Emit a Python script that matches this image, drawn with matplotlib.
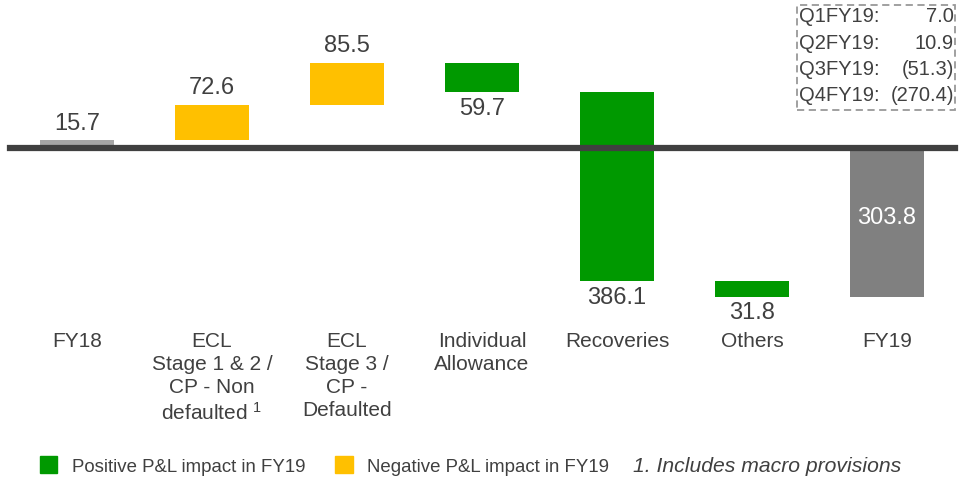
import matplotlib.pyplot as plt
from matplotlib.patches import Rectangle

# ---------------- data ----------------
categories = ["FY18", "ECL\nStage 1 & 2 /\nCP - Non\ndefaulted $^{1}$", "ECL\nStage 3 /\nCP -\nDefaulted",
              "Individual\nAllowance", "Recoveries", "Others", "FY19"]
changes = [15.7, 72.6, 85.5, -59.7, -386.1, -31.8, -303.8]
kinds = ["total", "neg", "neg", "pos", "pos", "pos", "total"]
labels = ["15.7", "72.6", "85.5", "59.7", "386.1", "31.8", "303.8"]

quarters = ["Q1FY19:", "Q2FY19:", "Q3FY19:", "Q4FY19:"]
quarter_vals = ["7.0", "10.9", "(51.3)", "(270.4)"]

GREEN = "#009900"
YELLOW = "#FFC000"
GRAY = "#808080"
LIGHT_GRAY = "#A6A6A6"
TEXT = "#404040"

plt.rcParams['font.family'] = ['Liberation Sans', 'DejaVu Sans']
plt.rcParams['mathtext.fontset'] = 'custom'
plt.rcParams['mathtext.rm'] = 'Liberation Sans'
plt.rcParams['mathtext.it'] = 'Liberation Sans'

W, H = 959, 482
fig = plt.figure(figsize=(W / 100, H / 100), dpi=100)
ax = fig.add_axes([0, 0, 1, 1])
ax.set_axis_off()

# pixel layout: bar i centred at 77 + 135*i, zero line at y=148, 0.49 px per unit
scale = 0.49
zero_px = 148
ax.set_xlim(-77 / 135, (W - 77) / 135)
ax.set_ylim(-(H - zero_px) / scale, zero_px / scale)


def fx(px):
    return px / W


def fy(py):
    return 1 - py / H


# ---------------- waterfall ----------------
running = 0.0
for i, (c, k) in enumerate(zip(changes, kinds)):
    if k == "total":
        bottom, height = 0, c
        color = LIGHT_GRAY if i == 0 else GRAY
    else:
        bottom, height = running, c
        color = YELLOW if k == "neg" else GREEN
    ax.bar(i, height, bottom=bottom, width=74 / 135, color=color, zorder=2)
    top = bottom + height if height > 0 else bottom
    low = bottom if height > 0 else bottom + height
    running = c if k == "total" else running + c

    if i == len(changes) - 1:
        ax.text(i, c / 2 + 9, labels[i], ha="center", va="center", color="white", fontsize=17, zorder=3)
    elif height > 0:
        ax.annotate(labels[i], (i, top), xytext=(0, 4), textcoords="offset points",
                    ha="center", va="bottom", color=TEXT, fontsize=17)
    else:
        ax.annotate(labels[i], (i, low), xytext=(0, -4), textcoords="offset points",
                    ha="center", va="top", color=TEXT, fontsize=17)

    ax.text(i, fy(332), categories[i], transform=ax.get_xaxis_transform(),
            ha="center", va="top", color=TEXT, fontsize=15, linespacing=1.26)

# zero line
ax.axhline(0, xmin=fx(10), xmax=fx(955), color=TEXT, lw=4.5, zorder=4)

# ---------------- quarterly box ----------------
fig.patches.append(Rectangle((fx(797), fy(110)), fx(955) - fx(797), fy(5) - fy(110),
                             transform=fig.transFigure, fill=False, ec="#999999",
                             ls=(0, (4, 2.5)), lw=1.3))
for j, (q, v) in enumerate(zip(quarters, quarter_vals)):
    yy = fy(17 + 26.3 * j)
    fig.text(fx(799), yy, q, ha="left", va="center", color=TEXT, fontsize=14.5)
    fig.text(fx(954), yy, v, ha="right", va="center", color=TEXT, fontsize=14.5)

# ---------------- legend ----------------
fig.patches.append(Rectangle((fx(40), fy(473)), fx(57) - fx(40), fy(456) - fy(473),
                             transform=fig.transFigure, color=GREEN))
fig.text(fx(72), fy(468), "Positive P&L impact in FY19", ha="left", va="center", color=TEXT, fontsize=13.4)
fig.patches.append(Rectangle((fx(335), fy(473)), fx(353) - fx(335), fy(456) - fy(473),
                             transform=fig.transFigure, color=YELLOW))
fig.text(fx(367), fy(468), "Negative P&L impact in FY19", ha="left", va="center", color=TEXT, fontsize=13.4)
fig.text(fx(633), fy(467), "1. Includes macro provisions", ha="left", va="center", color=TEXT,
         fontsize=15.2, style="italic")

fig.savefig("out.png", dpi=100)
